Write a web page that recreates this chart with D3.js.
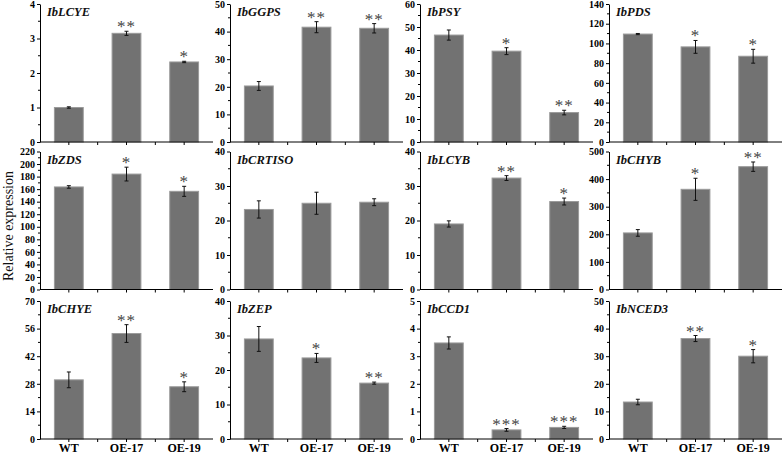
<!DOCTYPE html>
<html><head><meta charset="utf-8">
<script src="https://cdn.jsdelivr.net/npm/d3@7"></script>
<style>body{margin:0;background:#fff}svg{display:block}</style>
</head><body>
<script>
const groups = ["WT", "OE-17", "OE-19"];
const genes = ["IbLCYE","IbGGPS","IbPSY","IbPDS","IbZDS","IbCRTISO","IbLCYB","IbCHYB","IbCHYE","IbZEP","IbCCD1","IbNCED3"];
const meanWT   = [1.0, 20.3, 46.5, 109.5, 163.5, 23.2, 19.0, 205, 30.0, 29.0, 3.48, 13.4];
const meanOE17 = [3.15, 41.6, 39.5, 96.5, 184, 25.0, 32.3, 363, 53.5, 23.5, 0.33, 36.4];
const meanOE19 = [2.32, 41.2, 12.8, 87.0, 156.5, 25.3, 25.5, 445, 26.5, 16.2, 0.42, 30.0];
const errWT    = [0.02, 1.6, 2.2, 0.6, 2.0, 2.5, 0.9, 12, 4.0, 3.6, 0.22, 1.0];
const errOE17  = [0.06, 2.0, 1.5, 6.5, 11, 3.2, 0.7, 40, 4.5, 1.3, 0.05, 1.1];
const errOE19  = [0.02, 1.7, 1.0, 7.0, 8.0, 1.0, 1.0, 17, 2.5, 0.3, 0.04, 2.4];
const starWT   = ["","","","","","","","","","","",""];
const starOE17 = ["**","**","*","*","*","","**","*","**","*","***","**"];
const starOE19 = ["*","**","**","*","*","","*","**","*","**","***","*"];
const yMax  = [4, 50, 60, 140, 220, 40, 40, 500, 70, 40, 5, 50];
const yStep = [1, 10, 10, 20, 20, 10, 10, 100, 14, 10, 1, 10];

const W = 784, H = 454;
const svg = d3.select("body").append("svg").attr("width", W).attr("height", H);
const colX = [40, 230, 420, 609];
const rowTop = [4, 151.5, 301];
const pw = 173, ph = 138;
const serif = "'Liberation Serif','Times New Roman',serif";

genes.forEach((g, i) => {
  const r = Math.floor(i / 4), c = i % 4;
  const gx = colX[c], gy = rowTop[r];
  const G = svg.append("g").attr("transform", `translate(${gx},${gy})`);
  const x = d3.scaleBand().domain(groups).range([0, pw]).padding(0.5).paddingOuter(0.25);
  const y = d3.scaleLinear().domain([0, yMax[i]]).range([ph, 0]);
  const means = [meanWT[i], meanOE17[i], meanOE19[i]];
  const errs = [errWT[i], errOE17[i], errOE19[i]];
  const stars = [starWT[i], starOE17[i], starOE19[i]];
  const data = groups.map((k, j) => ({k, m: means[j], e: errs[j], s: stars[j]}));

  G.selectAll("rect.bar").data(data).join("rect").attr("class","bar")
    .attr("x", d => x(d.k)).attr("width", x.bandwidth())
    .attr("y", d => y(d.m)).attr("height", d => ph - y(d.m))
    .attr("fill", "#727272").attr("stroke", "#9a9a9a").attr("stroke-width", 1);

  const eb = G.selectAll("g.err").data(data).join("g").attr("class","err")
    .attr("stroke", "#111").attr("stroke-width", 1);
  const cx = d => x(d.k) + x.bandwidth() / 2;
  eb.append("line").attr("x1", cx).attr("x2", cx).attr("y1", d => y(d.m - d.e)).attr("y2", d => y(d.m + d.e));
  eb.append("line").attr("x1", d => cx(d) - 2).attr("x2", d => cx(d) + 2).attr("y1", d => y(d.m + d.e)).attr("y2", d => y(d.m + d.e));
  eb.append("line").attr("x1", d => cx(d) - 2).attr("x2", d => cx(d) + 2).attr("y1", d => y(d.m - d.e)).attr("y2", d => y(d.m - d.e));

  G.selectAll("text.star").data(data.filter(d => d.s)).join("text").attr("class","star")
    .attr("x", cx).attr("y", d => y(d.m + d.e) + 1)
    .attr("text-anchor", "middle").attr("font-family", serif).attr("font-size", 17)
    .attr("letter-spacing", "1px").attr("fill", "#444").text(d => d.s);

  // y axis
  const ticks = d3.range(0, yMax[i] + 1e-9, yStep[i]);
  const minor = d3.range(yStep[i] / 2, yMax[i], yStep[i]);
  const ya = G.append("g").call(d3.axisLeft(y).tickValues(ticks).tickFormat(d3.format("~g")).tickSize(3).tickSizeOuter(0).tickPadding(2));
  ya.select(".domain").attr("stroke", "#000");
  ya.selectAll("text").attr("font-family", serif).attr("font-weight", "bold").attr("font-size", 10).attr("fill", "#000");
  G.append("g").selectAll("line").data(minor).join("line")
    .attr("x1", -2).attr("x2", 0).attr("y1", d => y(d)).attr("y2", d => y(d)).attr("stroke", "#000");

  // x axis
  const xa = G.append("g").attr("transform", `translate(0,${ph})`)
    .call(d3.axisBottom(x).tickSize(3).tickSizeOuter(0).tickPadding(1));
  xa.select(".domain").attr("d", `M0,0H${pw}`).attr("stroke", "#000");
  const bounds = [x("WT") + x.bandwidth() / 2 + x.step() / 2, x("OE-17") + x.bandwidth() / 2 + x.step() / 2];
  xa.append("g").selectAll("line").data(bounds).join("line")
    .attr("x1", d => d).attr("x2", d => d).attr("y1", 0).attr("y2", 3).attr("stroke", "#000");
  if (r === 2) {
    xa.selectAll(".tick text").attr("font-family", serif).attr("font-weight", "bold").attr("font-size", 12).attr("fill", "#000");
  } else {
    xa.selectAll(".tick text").remove();
  }

  G.append("text").attr("x", 7).attr("y", 12).attr("font-family", serif)
    .attr("font-weight", "bold").attr("font-style", "italic").attr("font-size", 12.5)
    .attr("fill", "#111").text(g);
});

svg.append("text").attr("transform", "translate(13,226) rotate(-90)")
  .attr("text-anchor", "middle").attr("font-family", serif).attr("font-size", 14)
  .attr("fill", "#111").text("Relative expression");
</script>
</body></html>
